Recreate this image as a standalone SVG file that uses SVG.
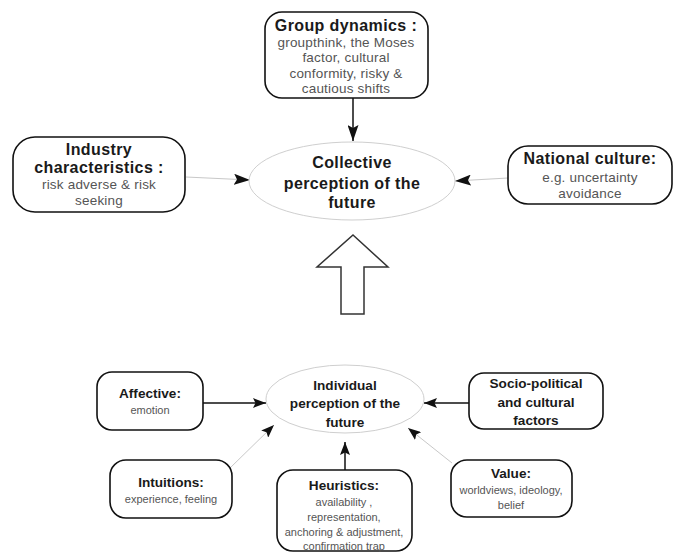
<svg xmlns="http://www.w3.org/2000/svg" width="678" height="553" viewBox="0 0 678 553">
<style>
.box{fill:#fff;stroke:#111;stroke-width:1.6}
.ell{fill:#fff;stroke:#cfcfcf;stroke-width:1}
.t{font-family:"Liberation Sans",Arial,sans-serif;text-anchor:middle}
.b17{font-size:16px;font-weight:bold;fill:#1a1a1a;letter-spacing:0.4px}
.b14{font-size:13.6px;font-weight:bold;fill:#1a1a1a}
.r14{font-size:13.5px;fill:#555;letter-spacing:0.2px}
.r11{font-size:11px;fill:#555}
.gc{stroke:#c8c8c8;stroke-width:1;fill:none}
.bc{stroke:#111;stroke-width:1.5;fill:none}
</style>
<defs>
<marker id="ah" markerUnits="userSpaceOnUse" markerWidth="17" markerHeight="11" refX="16" refY="5.5" orient="auto">
<path d="M0,0 L16,5.5 L0,11 L3,5.5 z" fill="#111"/>
</marker>
<marker id="as" markerUnits="userSpaceOnUse" markerWidth="14" markerHeight="10" refX="13" refY="5" orient="auto">
<path d="M0,0 L13,5 L0,10 L2.5,5 z" fill="#111"/>
</marker>
</defs>
<g id="connectors">
<line class="bc" x1="353" y1="98" x2="353" y2="141" marker-end="url(#ah)"/>
<line class="gc" x1="186" y1="177" x2="250" y2="180" marker-end="url(#ah)"/>
<line class="gc" x1="508" y1="178" x2="455" y2="181" marker-end="url(#ah)"/>
<line class="bc" x1="203" y1="403" x2="266" y2="403" marker-end="url(#as)"/>
<line class="bc" x1="469" y1="403" x2="424" y2="403" marker-end="url(#as)"/>
<line class="gc" x1="230" y1="468" x2="274" y2="425" marker-end="url(#as)"/>
<line class="bc" x1="345" y1="470" x2="345" y2="442" marker-end="url(#as)"/>
<line class="gc" x1="452" y1="463" x2="408" y2="428" marker-end="url(#as)"/>
</g>
<g id="big-arrow">
<polygon points="353,235 388,267 364,267 364,314 341,314 341,267 317,267" fill="#fff" stroke="#333" stroke-width="1.5"/>
</g>
<g id="group-dynamics">
<rect class="box" x="265" y="12" width="163" height="86" rx="17"/>
<text class="t b17" x="346" y="31">Group dynamics :</text>
<text class="t r14" x="346" y="47">groupthink, the Moses</text>
<text class="t r14" x="346" y="62.3">factor, cultural</text>
<text class="t r14" x="346" y="77.6">conformity, risky &amp;</text>
<text class="t r14" x="346" y="93">cautious shifts</text>
</g>
<g id="industry">
<rect class="box" x="13" y="137" width="172" height="75" rx="22"/>
<text class="t b17" x="99" y="155">Industry</text>
<text class="t b17" x="99" y="173">characteristics :</text>
<text class="t r14" x="99" y="189">risk adverse &amp; risk</text>
<text class="t r14" x="99" y="204.5">seeking</text>
</g>
<g id="national">
<rect class="box" x="508" y="146" width="164" height="58" rx="20"/>
<text class="t b17" x="590" y="164">National culture:</text>
<text class="t r14" x="590" y="182">e.g. uncertainty</text>
<text class="t r14" x="590" y="197.5">avoidance</text>
</g>
<g id="collective">
<ellipse class="ell" cx="352" cy="181" rx="103" ry="39"/>
<text class="t b17" x="352" y="168">Collective</text>
<text class="t b17" x="352" y="188.5">perception of the</text>
<text class="t b17" x="352" y="208">future</text>
</g>
<g id="individual">
<ellipse class="ell" cx="345" cy="399" rx="79" ry="34"/>
<text class="t b14" x="345" y="390">Individual</text>
<text class="t b14" x="345" y="408">perception of the</text>
<text class="t b14" x="345" y="427">future</text>
</g>
<g id="affective">
<rect class="box" x="97" y="372" width="106" height="58" rx="15"/>
<text class="t b14" x="150" y="398">Affective:</text>
<text class="t r11" x="150" y="414">emotion</text>
</g>
<g id="socio">
<rect class="box" x="469" y="373" width="134" height="56" rx="15"/>
<text class="t b14" x="536" y="388">Socio-political</text>
<text class="t b14" x="536" y="407">and cultural</text>
<text class="t b14" x="536" y="425">factors</text>
</g>
<g id="intuitions">
<rect class="box" x="110" y="460" width="122" height="58" rx="16"/>
<text class="t b14" x="171" y="487">Intuitions:</text>
<text class="t r11" x="171" y="503">experience, feeling</text>
</g>
<g id="heuristics">
<rect class="box" x="277" y="470" width="135" height="81" rx="16"/>
<text class="t b14" x="344" y="490">Heuristics:</text>
<text class="t r11" x="344" y="506">availability ,</text>
<text class="t r11" x="344" y="521">representation,</text>
<text class="t r11" x="344" y="536">anchoring &amp; adjustment,</text>
<text class="t r11" x="344" y="550">confirmation trap</text>
</g>
<g id="value">
<rect class="box" x="451" y="460" width="121" height="57" rx="16"/>
<text class="t b14" x="511" y="478">Value:</text>
<text class="t r11" x="511" y="494">worldviews, ideology,</text>
<text class="t r11" x="511" y="509">belief</text>
</g>
</svg>
